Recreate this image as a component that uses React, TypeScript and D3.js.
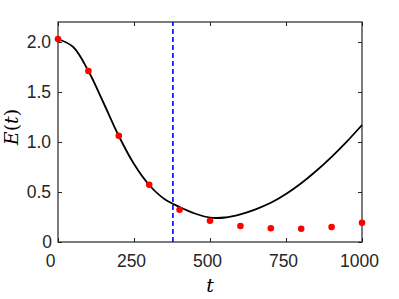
import { useEffect, useRef } from "react";
import * as d3 from "d3";

// observed samples (red dots)
const sampleT = [0, 100, 200, 300, 400, 500, 600, 700, 800, 900, 1000];
const sampleE = [2.03, 1.71, 1.063, 0.573, 0.323, 0.213, 0.16, 0.137, 0.133, 0.15, 0.193];

// fitted curve (black line)
const curveT = [0, 50, 100, 150, 200, 250, 300, 350, 400, 450, 500, 550, 600, 650, 700, 750, 800, 850, 900, 950, 1000];
const curveE = [2.03, 1.95, 1.71, 1.39, 1.06, 0.78, 0.57, 0.43, 0.35, 0.285, 0.244, 0.245, 0.277, 0.327, 0.392, 0.48, 0.587, 0.712, 0.852, 1.004, 1.17];

const cutoffT = 378;

const xTicks = [0, 250, 500, 750, 1000];
const yTicks = [0, 0.5, 1.0, 1.5, 2.0];

export default function App() {
  const ref = useRef<SVGSVGElement>(null);

  useEffect(() => {
    if (!ref.current) return;
    const svg = d3.select(ref.current);
    svg.selectAll("*").remove();

    const width = 399;
    const height = 299;
    const margin = { top: 22, right: 37, bottom: 57, left: 58 };

    const x = d3.scaleLinear().domain([0, 1000]).range([margin.left, width - margin.right]);
    const y = d3.scaleLinear().domain([0, 2.2]).range([height - margin.bottom, margin.top]);

    const axisColor = "#262626";
    const font = "'Liberation Sans', Arial, sans-serif";

    // x axis (bottom) with inward ticks
    const gx = svg
      .append("g")
      .attr("transform", `translate(0,${y(0)})`)
      .call(d3.axisBottom(x).tickValues(xTicks).tickSizeInner(-4).tickSizeOuter(0).tickPadding(13).tickFormat(d3.format("d")));
    gx.select(".domain").remove();
    gx.selectAll("line").attr("stroke", axisColor);
    gx.selectAll<SVGTextElement, number>("text")
      .attr("font-family", font)
      .attr("font-size", 17.5)
      .attr("fill", axisColor)
      .attr("dx", (d) => (d === 0 ? -8 : -3));

    // x ticks on top
    svg
      .append("g")
      .attr("transform", `translate(0,${y(2.2)})`)
      .call(d3.axisTop(x).tickValues(xTicks).tickSizeInner(-4).tickSizeOuter(0).tickFormat(() => ""))
      .call((g) => g.select(".domain").remove())
      .selectAll("line")
      .attr("stroke", axisColor);

    // y axis (left)
    const gy = svg
      .append("g")
      .attr("transform", `translate(${x(0)},0)`)
      .call(
        d3
          .axisLeft(y)
          .tickValues(yTicks)
          .tickSizeInner(-4)
          .tickSizeOuter(0)
          .tickPadding(7)
          .tickFormat((d) => (d === 0 ? "0" : d3.format(".1f")(d as number)))
      );
    gy.select(".domain").remove();
    gy.selectAll("line").attr("stroke", axisColor);
    gy.selectAll<SVGTextElement, number>("text")
      .attr("font-family", font)
      .attr("font-size", 17.5)
      .attr("fill", axisColor)
      .attr("dx", (d) => (d === 0 ? 1 : 0))
      .attr("dy", "0.32em");

    // y ticks on right
    svg
      .append("g")
      .attr("transform", `translate(${x(1000)},0)`)
      .call(d3.axisRight(y).tickValues(yTicks).tickSizeInner(-4).tickSizeOuter(0).tickFormat(() => ""))
      .call((g) => g.select(".domain").remove())
      .selectAll("line")
      .attr("stroke", axisColor);

    // box
    svg
      .append("rect")
      .attr("x", x(0))
      .attr("y", y(2.2))
      .attr("width", x(1000) - x(0))
      .attr("height", y(0) - y(2.2))
      .attr("fill", "none")
      .attr("stroke", axisColor)
      .attr("stroke-width", 1.2);

    // fitted curve
    const line = d3
      .line<number>()
      .x((d) => x(d))
      .y((_, i) => y(curveE[i]))
      .curve(d3.curveCatmullRom);
    svg
      .append("path")
      .attr("d", line(curveT))
      .attr("fill", "none")
      .attr("stroke", "#000")
      .attr("stroke-width", 1.8);

    // cutoff line
    svg
      .append("line")
      .attr("x1", x(cutoffT))
      .attr("x2", x(cutoffT))
      .attr("y1", y(0))
      .attr("y2", y(2.2))
      .attr("stroke", "#0000ff")
      .attr("stroke-width", 1.6)
      .attr("stroke-dasharray", "5,3");

    // samples
    svg
      .selectAll(".dot")
      .data(sampleT)
      .join("circle")
      .attr("class", "dot")
      .attr("cx", (d) => x(d))
      .attr("cy", (_, i) => y(sampleE[i]))
      .attr("r", 3.3)
      .attr("fill", "#ff0000");

    // labels
    svg
      .append("text")
      .attr("x", x(500))
      .attr("y", 292)
      .attr("text-anchor", "middle")
      .attr("font-family", "'DejaVu Serif', serif")
      .attr("font-style", "italic")
      .attr("font-size", 19)
      .text("t");

    svg
      .append("text")
      .attr("transform", `translate(18,127) rotate(-90)`)
      .attr("text-anchor", "middle")
      .attr("font-family", "'DejaVu Serif', serif")
      .attr("font-size", 19)
      .call((t) => {
        t.append("tspan").attr("font-style", "italic").text("E");
        t.append("tspan").text("(");
        t.append("tspan").attr("font-style", "italic").text("t");
        t.append("tspan").text(")");
      });
  }, []);

  return (
    <svg
      ref={ref}
      width={399}
      height={299}
      style={{ position: "fixed", left: 0, top: 0, background: "#fff" }}
    />
  );
}
